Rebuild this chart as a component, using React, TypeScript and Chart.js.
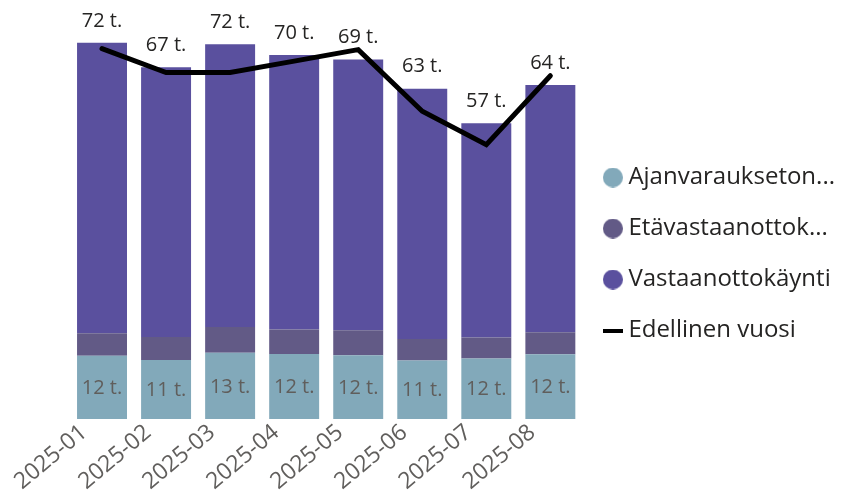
import React, { useEffect, useRef } from "react";
import { Chart, registerables } from "chart.js";

Chart.register(...registerables);

const months = ["2025-01", "2025-02", "2025-03", "2025-04", "2025-05", "2025-06", "2025-07", "2025-08"];
const ajanvaraukseton = [12.1, 11.3, 12.7, 12.45, 12.2, 11.2, 11.6, 12.4];
const etavastaanotto = [4.3, 4.4, 4.9, 4.7, 4.8, 4.1, 4.0, 4.2];
const vastaanottokaynti = [55.6, 51.6, 54.1, 52.5, 51.8, 47.9, 41.0, 47.3];
const edellinenVuosi = [70.9, 66.3, 66.3, 68.5, 70.7, 58.9, 52.5, 65.7];

const seriesNames = ["Ajanvarauksetonkäynti", "Etävastaanottokäynti", "Vastaanottokäynti", "Edellinen vuosi"];
const legendNames = ["Ajanvaraukseton...", "Etävastaanottok...", "Vastaanottokäynti", "Edellinen vuosi"];
const colors = ["#82A9BA", "#625A86", "#5A509E", "#000000"];

const FONT = "'Open Sans', 'Noto Sans', sans-serif";

function makeMarker(color: string, line: boolean): HTMLCanvasElement {
  const c = document.createElement("canvas");
  if (line) {
    c.width = 20;
    c.height = 4;
    const g = c.getContext("2d")!;
    g.fillStyle = color;
    g.fillRect(0, 0, 20, 4);
  } else {
    c.width = 20;
    c.height = 20;
    const g = c.getContext("2d")!;
    g.fillStyle = color;
    g.beginPath();
    g.arc(10, 10, 10, 0, Math.PI * 2);
    g.fill();
  }
  return c;
}

const labelPlugin = {
  id: "valueLabels",
  afterDraw(chart: any) {
    const ctx = chart.ctx;
    const m0 = chart.getDatasetMeta(0);
    const m2 = chart.getDatasetMeta(2);
    ctx.save();
    ctx.font = `20px ${FONT}`;
    ctx.textAlign = "center";
    ctx.textBaseline = "middle";
    months.forEach((_, i) => {
      const total = ajanvaraukseton[i] + etavastaanotto[i] + vastaanottokaynti[i];
      const top = m2.data[i];
      ctx.fillStyle = "#252423";
      ctx.fillText(`${Math.round(total)} t.`, top.x, top.y - 22);
      const b = m0.data[i];
      ctx.fillStyle = "#605E5C";
      ctx.fillText(`${Math.round(ajanvaraukseton[i])} t.`, b.x, (b.y + b.base) / 2 + 1);
    });
    ctx.restore();
  },
};

export default function App() {
  const ref = useRef<HTMLCanvasElement>(null);
  useEffect(() => {
    if (!ref.current) return;
    Chart.defaults.font.family = FONT;
    const markers = colors.map((c, i) => makeMarker(c, i === 3));
    const chart = new Chart(ref.current, {
      type: "bar",
      data: {
        labels: months,
        datasets: [
          { label: seriesNames[0], data: ajanvaraukseton, backgroundColor: colors[0], stack: "s", categoryPercentage: 1, barPercentage: 0.78 },
          { label: seriesNames[1], data: etavastaanotto, backgroundColor: colors[1], stack: "s", categoryPercentage: 1, barPercentage: 0.78 },
          { label: seriesNames[2], data: vastaanottokaynti, backgroundColor: colors[2], stack: "s", categoryPercentage: 1, barPercentage: 0.78 },
          {
            type: "line" as any,
            label: seriesNames[3],
            data: edellinenVuosi,
            borderColor: colors[3],
            backgroundColor: colors[3],
            borderWidth: 5,
            pointRadius: 0,
            borderCapStyle: "round",
            tension: 0,
            order: -1,
          } as any,
        ],
      },
      options: {
        animation: false,
        responsive: true,
        maintainAspectRatio: false,
        layout: { padding: { left: 70, top: 1, bottom: 0, right: -4 } },
        scales: {
          x: {
            stacked: true,
            grid: { display: false, drawTicks: false },
            border: { display: false },
            ticks: {
              color: "#605E5C",
              font: { size: 23 },
              minRotation: 40,
              maxRotation: 40,
              labelOffset: -18,
              padding: 0,
            },
            afterFit: (scale: any) => {
              scale.height = 74;
            },
          },
          y: {
            stacked: true,
            display: false,
            min: 0,
            max: 80,
          },
        },
        plugins: {
          tooltip: { enabled: false },
          legend: {
            position: "right",
            title: { display: true, text: " ", font: { size: 8, lineHeight: 1 }, padding: { top: 3, bottom: 3 } },
            labels: {
              usePointStyle: true,
              boxHeight: 14,
              boxWidth: 7,
              padding: 27,
              color: "#252423",
              font: { size: 24 },
              generateLabels: () =>
                legendNames.map((t, i) => ({
                  text: t,
                  fillStyle: colors[i],
                  strokeStyle: colors[i],
                  lineWidth: 0,
                  pointStyle: markers[i],
                  hidden: false,
                  datasetIndex: i,
                  fontColor: "#252423",
                })) as any,
            },
          },
        },
      },
      plugins: [labelPlugin],
    });
    return () => chart.destroy();
  }, []);
  return (
    <div style={{ position: "absolute", left: 0, top: 0, width: 841, height: 493 }}>
      <canvas ref={ref} />
    </div>
  );
}
